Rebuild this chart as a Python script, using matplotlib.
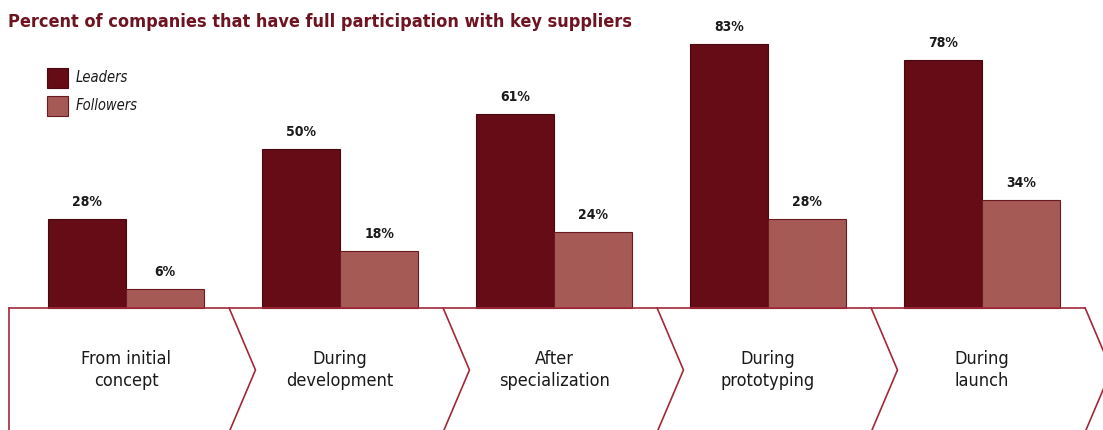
import matplotlib
matplotlib.use("Agg")
import matplotlib.pyplot as plt
import numpy as np

stages = ["From initial\nconcept", "During\ndevelopment", "After\nspecialization",
          "During\nprototyping", "During\nlaunch"]
leaders = [28, 50, 61, 83, 78]
followers = [6, 18, 24, 28, 34]

plt.rcParams["font.family"] = ["DejaVu Sans"]
plt.rcParams["font.stretch"] = "condensed"

lead_color = "#650c16"
foll_color = "#a65a55"
line_color = "#a3283a"

fig = plt.figure(figsize=(11.03, 4.30), dpi=100)
ax = fig.add_axes([0, 0, 1, 1])
ax.set_xlim(-126 / 214, (1103 - 126) / 214)
ax.set_ylim(-122 / 3.18, 308 / 3.18)
ax.axis("off")

x = np.arange(len(stages))
w = 0.366
b1 = ax.bar(x - w / 2, leaders, w, color=lead_color, edgecolor="#4a0810", linewidth=0.8)
b2 = ax.bar(x + w / 2, followers, w, color=foll_color, edgecolor="#6a1a20", linewidth=0.8)

for bars, vals in [(b1, leaders), (b2, followers)]:
    for r, v in zip(bars, vals):
        ax.annotate(f"{v}%", (r.get_x() + r.get_width() / 2, v), xytext=(0, 7),
                    textcoords="offset points", ha="center", va="bottom",
                    fontsize=10, fontweight="bold", color="#1a1a1a")

# chevron band under the bars
bottom = -124 / 3.18
mid = bottom / 2
ax.plot([-0.547, 4.48], [0, 0], color=line_color, lw=1.2, zorder=3)
ax.plot([-0.547, -0.547], [0, bottom], color=line_color, lw=1.2)
for i in range(len(stages)):
    ax.plot([i + 0.482, i + 0.605, i + 0.482], [0, mid, bottom],
            color=line_color, lw=1.2, clip_on=False)
    ax.text(i, mid, stages[i], ha="center", va="center", fontsize=13,
            color="#1a1a1a", linespacing=1.25)

fig.text(8 / 1103, 1 - 22 / 430, "Percent of companies that have full participation with key suppliers",
         fontsize=13, fontweight="bold", color="#6e1420", va="center", ha="left")

# legend
for k, (lab, col, ec) in enumerate([("Leaders", lead_color, "#4a0810"),
                                    ("Followers", foll_color, "#6a1a20")]):
    yc = 78 + 28 * k
    fig.patches.append(plt.Rectangle((47 / 1103, 1 - (yc + 10) / 430), 21 / 1103, 20 / 430,
                                     transform=fig.transFigure, facecolor=col, edgecolor=ec, lw=0.8))
    fig.text(76 / 1103, 1 - yc / 430, lab, fontsize=10.5, style="italic",
             color="#1a1a1a", va="center", ha="left")

fig.savefig("out.png", dpi=100)
